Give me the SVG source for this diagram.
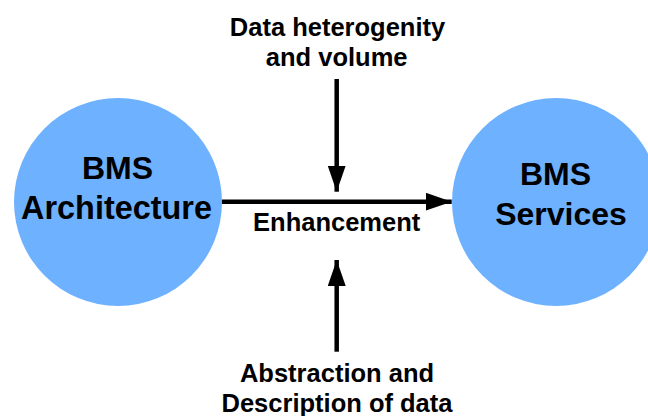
<svg xmlns="http://www.w3.org/2000/svg" width="648" height="416" viewBox="0 0 648 416">
<style>
.node{fill:#6eb1ff}
.t{font-family:"Liberation Sans",Arial,sans-serif;font-weight:bold;fill:#000;text-anchor:middle}
.big{font-size:32px}
.lbl{font-size:25.5px}
.ln{stroke:#000;stroke-width:4.5;fill:none}
</style>
<defs>
<marker id="ah" markerUnits="userSpaceOnUse" markerWidth="26" markerHeight="18" refX="26" refY="9" orient="auto">
<polygon points="0,0 26,9 0,18" fill="#000"/>
</marker>
</defs>
<rect width="648" height="416" fill="#fff"/>
<g id="node-architecture">
<circle class="node" cx="118" cy="202" r="104"/>
<text class="t big" x="117.5" y="179.3">BMS</text>
<text class="t big" x="116.5" y="219" style="font-size:32.4px">Architecture</text>
</g>
<g id="node-services">
<circle class="node" cx="556" cy="202" r="104"/>
<text class="t big" x="555.5" y="185">BMS</text>
<text class="t big" x="561" y="225">Services</text>
</g>
<g id="connectors">
<line class="ln" x1="222" y1="201.7" x2="451.7" y2="201.7" marker-end="url(#ah)"/>
<line class="ln" x1="336.7" y1="79" x2="336.7" y2="191.7" marker-end="url(#ah)"/>
<line class="ln" x1="336.7" y1="351.7" x2="336.7" y2="260" marker-end="url(#ah)"/>
</g>
<g id="labels">
<text class="t lbl" x="337.5" y="36">Data heterogenity</text>
<text class="t lbl" x="336.7" y="65.7">and volume</text>
<text class="t lbl" x="336.7" y="230.7">Enhancement</text>
<text class="t lbl" x="337" y="381.7">Abstraction and</text>
<text class="t lbl" x="337" y="411.7">Description of data</text>
</g>
</svg>
